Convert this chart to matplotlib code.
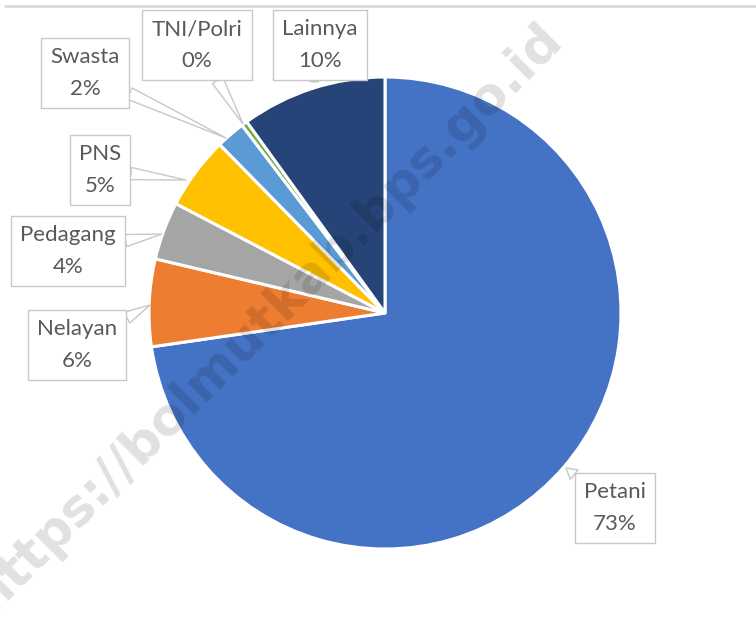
import numpy as np
import matplotlib
matplotlib.use("Agg")
import matplotlib.pyplot as plt

# pekerjaan (clockwise from 12 o'clock)
categories = ["Petani", "Nelayan", "Pedagang", "PNS", "Swasta", "TNI/Polri", "Lainnya"]
values = [73, 6, 4, 5, 2, 0.4, 10]
colors = ["#4472C4", "#ED7D31", "#A5A5A5", "#FFC000", "#5B9BD5", "#70AD47", "#264478"]

# callout box centres and pointer tips, in pixels from top-left
box_xy = [(615, 508), (77, 345), (68, 251), (100, 170), (85, 73), (197, 45), (320, 45)]
tip_xy = [(566, 468), (150, 305), (162, 234), (186, 180), (226, 138), (243, 124), (312, 82)]

W, H = 756, 618
plt.rcParams['font.family'] = ['Lato', 'DejaVu Sans']

fig = plt.figure(figsize=(W / 100, H / 100), dpi=100)
ax = fig.add_axes([0, 0, 1, 1])
ax.set_xlim(0, W)
ax.set_ylim(0, H)
ax.set_aspect('equal')
ax.axis('off')

ax.pie(values, colors=colors, startangle=90, counterclock=False,
       center=(385, H - 313), radius=236,
       wedgeprops=dict(edgecolor='white', linewidth=2.2))
ax.set_xlim(0, W)
ax.set_ylim(0, H)

for i, name in enumerate(categories):
    lab = "%s\n%d%%" % (name, round(values[i]))
    bx, by = box_xy[i]
    tx, ty = tip_xy[i]
    ax.annotate(lab, xy=(tx, H - ty), xytext=(bx, H - by),
                ha='center', va='center', fontsize=16, color='#595959',
                linespacing=1.7, zorder=5,
                bbox=dict(boxstyle='square,pad=0.42', fc='white', ec='#c8c8c8', lw=1),
                arrowprops=dict(arrowstyle='wedge,tail_width=0.55,shrink_factor=0.5',
                                fc='white', ec='#c8c8c8', lw=1,
                                shrinkA=0, shrinkB=0))

# border line on top of the chart area
ax.plot([4, W], [H - 6, H - 6], color='#d9d9d9', lw=2, solid_capstyle='butt')

# watermark
ax.text(268, H - 318, "https://bolmutkab.bps.go.id", rotation=45,
        ha='center', va='center', fontsize=37, fontweight='bold',
        family=['DejaVu Sans'], color='black', alpha=0.12, zorder=6)

fig.savefig("out.png", dpi=100)
